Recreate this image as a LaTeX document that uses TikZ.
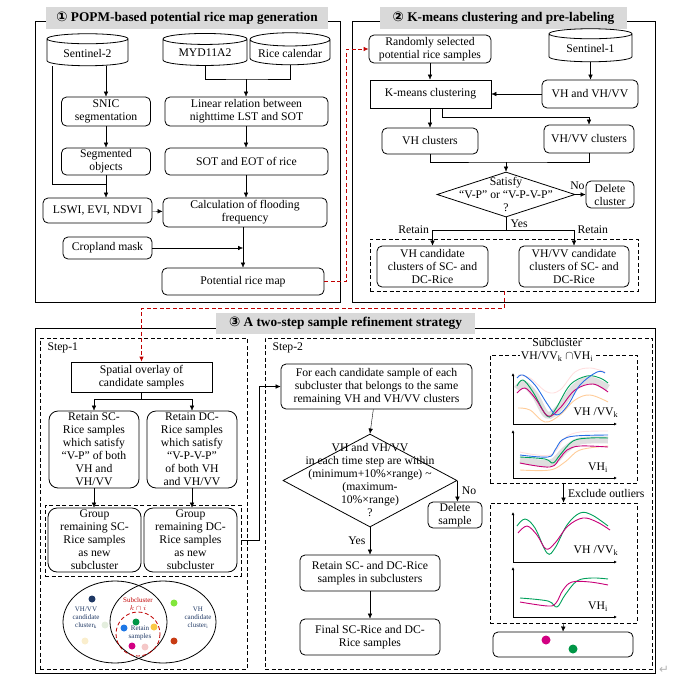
\documentclass[tikz,border=0pt]{standalone}
\usepackage{fontspec}
\setmainfont{Liberation Serif}
\newfontfamily\symfont{DejaVu Sans}
\usetikzlibrary{positioning,calc,arrows.meta,shapes.geometric}
\definecolor{darkred}{RGB}{192,0,0}
\definecolor{navy}{RGB}{31,56,100}
\definecolor{titlegray}{RGB}{217,217,217}
\definecolor{cgreen}{RGB}{0,160,90}
\definecolor{cmag}{RGB}{200,0,120}
\definecolor{cblue}{RGB}{40,110,230}
\definecolor{dpale}{RGB}{228,238,222}
\definecolor{dcream}{RGB}{250,238,205}
\definecolor{dgreen}{RGB}{0,150,70}
\definecolor{dblue}{RGB}{30,120,230}
\definecolor{dyellow}{RGB}{250,200,70}
\definecolor{dmag}{RGB}{210,0,130}
\definecolor{dpink}{RGB}{245,200,200}
\definecolor{dlime}{RGB}{130,230,60}
\definecolor{dorange}{RGB}{200,60,20}
\tikzset{box/.style={draw,rounded corners=5pt,align=center,line width=0.8pt,inner sep=1pt}}
\tikzset{sbox/.style={draw,align=center,line width=0.8pt,inner sep=1pt}}
\tikzset{db/.style={draw,cylinder,shape border rotate=90,aspect=0.2,align=center,line width=0.8pt,inner sep=1pt}}
\tikzset{dec/.style={draw,diamond,line width=0.8pt,inner sep=0pt}}
\tikzset{dbox/.style={draw,dashed,line width=0.8pt,dash pattern=on 4pt off 2.5pt}}
\tikzset{reddash/.style={draw=darkred,line width=0.8pt,dash pattern=on 4pt off 2.5pt}}
\tikzset{frame/.style={draw,line width=0.8pt}}
\tikzset{ttl/.style={fill=titlegray,font=\fontsize{13.3}{15}\selectfont\bfseries,inner sep=2pt}}
\tikzset{axis/.style={line width=0.8pt,-{Latex[length=3pt,width=3pt]}}}
\tikzset{curve/.style={line width=0.9pt,smooth,tension=0.6}}
\tikzset{dot/.style={circle,inner sep=0pt,minimum size=7pt}}
\tikzset{small/.style={font=\fontsize{7}{8}\selectfont,align=center}}
\tikzset{>={Latex[length=5pt,width=4.5pt]}}

\begin{document}
\begin{tikzpicture}[x=1pt,y=-1pt,font=\fontsize{11.7}{13}\selectfont]
\useasboundingbox (0,0) rectangle (680,686);

% panel frames
\draw[frame] (35,21) rectangle (340,302);
\draw[frame] (352,21) rectangle (655,302);
\draw[frame] (35,328) rectangle (655,673);
\node[ttl,minimum width=282pt,minimum height=22pt] (t1) at (187,18) {{\symfont ①} POPM-based potential rice map generation};
\node[ttl,minimum width=247pt,minimum height=22pt] (t2) at (503.5,18) {{\symfont ②} K-means clustering and pre-labeling};
\node[ttl,minimum width=259pt,minimum height=21pt] (t3) at (345.5,323.5) {{\symfont ③} A two-step sample refinement strategy};

% panel 1
\node[db,minimum width=81pt,minimum height=32pt] (s2) at (87.5,53) {Sentinel-2};
\node[db,minimum width=84pt,minimum height=32pt] (myd) at (205,53) {MYD11A2};
\node[db,minimum width=80pt,minimum height=32pt] (cal) at (290,53) {Rice calendar};
\node[box,minimum width=89pt,minimum height=29pt] (snic) at (106,111.5) {SNIC\\segmentation};
\node[box,minimum width=163pt,minimum height=29pt] (lin) at (246.5,111.5) {Linear relation between\\nighttime LST and SOT};
\node[box,minimum width=89pt,minimum height=27pt] (seg) at (106,161.5) {Segmented\\objects};
\node[box,minimum width=163pt,minimum height=27pt] (sot) at (246.5,161.5) {SOT and EOT of rice};
\node[box,minimum width=109pt,minimum height=25pt] (lswi) at (97.5,210.5) {LSWI, EVI, NDVI};
\node[box,minimum width=164pt,minimum height=29pt] (calc) at (245,212.5) {Calculation of flooding\\frequency};
\node[box,minimum width=89pt,minimum height=22pt] (crop) at (107.5,248) {Cropland mask};
\node[box,minimum width=162pt,minimum height=27pt] (prm) at (243,281.5) {Potential rice map};
\coordinate (j1) at (106,184);
\coordinate (j2) at (246,79);

\draw[->] (s2.south -| snic.north) -- (snic.north);
\draw[->] (snic) -- (seg);
\draw ([xshift=-35pt]s2.south) |- (j1);
\draw[->] (seg.south) -- (seg.south |- lswi.north);
\draw (myd.south) |- (j2) -| (cal.south);
\draw[->] (j2) -- (lin.north -| j2);
\draw[->] (lin.south -| j2) -- (sot.north -| j2);
\draw[->] (sot.south -| j2) -- (calc.north -| j2);
\draw[->] (lswi) -- (calc);
\draw[->] (calc.south -| prm.north) -- (prm.north);
\draw[->] (crop.east) -- (crop.east -| prm.north);

% panel 2
\node[box,minimum width=122pt,minimum height=28pt] (rand) at (430,49) {Randomly selected\\potential rice samples};
\node[db,minimum width=83pt,minimum height=33pt] (s1) at (590.5,48.5) {Sentinel-1};
\node[sbox,minimum width=121pt,minimum height=28pt] (km) at (430.5,94) {K-means clustering};
\node[box,minimum width=96pt,minimum height=28pt] (vhvv) at (590,94) {VH and VH/VV};
\node[box,minimum width=96pt,minimum height=26pt] (vhc) at (430,141) {VH clusters};
\node[box,minimum width=90pt,minimum height=28pt] (vvc) at (589,139) {VH/VV clusters};
\node[dec,minimum width=138pt,minimum height=45pt,label={[align=center]center:{Satisfy\\“V-P” or “V-P-V-P”\\?}}] (d1) at (506,194.5) {};
\node[box,minimum width=48pt,minimum height=27pt] (delc) at (610,194.5) {Delete\\cluster};
\node[dbox,minimum width=268pt,minimum height=52pt] (cand) at (504,265) {};
\node[box,minimum width=111pt,minimum height=41pt] (vhcand) at (432.5,266.5) {VH candidate\\clusters of SC- and\\DC-Rice};
\node[box,minimum width=110pt,minimum height=41pt] (vvcand) at (574,266.5) {VH/VV candidate\\clusters of SC- and\\DC-Rice};
\coordinate (j3) at (589,117);
\coordinate (j4) at (506,162);
\coordinate (j5) at (506,230);

\draw[->] (rand) -- (rand |- km.north);
\draw[->] (s1) -- (s1 |- vhvv.north);
\draw[->] (vhvv) -- (km);
\draw[->] (km.south -| vhc) -- (vhc.north);
\draw[->] ([xshift=12pt]km.south) |- (j3) -- (vvc.north);
\draw (vhc.south) |- (j4) -| (vvc.south);
\draw[->] (j4) -- (d1.north);
\draw[->] (d1.east) -- node[above=1pt,pos=0.2] (no1) {No} (delc.west);
\draw (d1.south) -- node[right=1pt] (yes1) {Yes} (j5);
\draw[->] (j5) -| (vhcand.north);
\draw[->] (j5) -| (vvcand.north);
\node[left=0pt] (ret1) at (vhcand.north |- j5) {Retain};
\node[right=0pt] (ret2) at (vvcand.north |- j5) {Retain};

% red links
\draw[reddash,-{Latex[length=5pt,width=4.5pt]},darkred] (prm.east) -- ++(22,0) |- (rand.west);

% panel 3
\node[dbox,minimum width=207pt,minimum height=331pt] (st1) at (143.5,503.5) {};
\node[dbox,minimum width=387pt,minimum height=331pt] (st2) at (458.5,503.5) {};
\node[anchor=west] (st1l) at (44,348) {Step-1};
\node[anchor=west] (st2l) at (269,348) {Step-2};

% step 1
\node[sbox,minimum width=141pt,minimum height=30pt] (spov) at (141.5,377) {Spatial overlay of\\candidate samples};
\node[box,rounded corners=9pt,minimum width=90pt,minimum height=77pt] (rsc) at (94,449.5) {Retain SC-\\Rice samples\\which satisfy\\“V-P” of both\\VH and\\VH/VV};
\node[box,rounded corners=9pt,minimum width=90pt,minimum height=77pt] (rdc) at (192,449.5) {Retain DC-\\Rice samples\\which satisfy\\“V-P-V-P”\\of both VH\\and VH/VV};
\node[dbox,minimum width=196pt,minimum height=71pt] (grp) at (143,540.5) {};
\node[box,rounded corners=9pt,minimum width=93pt,minimum height=64pt] (gsc) at (94.5,540) {Group\\remaining SC-\\Rice samples\\as new\\subcluster};
\node[box,rounded corners=9pt,minimum width=93pt,minimum height=64pt] (gdc) at (190.5,540) {Group\\remaining DC-\\Rice samples\\as new\\subcluster};
\coordinate (j6) at (141.5,399);

\draw[reddash,-{Latex[length=5pt,width=4.5pt]},darkred] (cand.south) -- ++(0,17) -| (spov.north);
\draw (spov.south) -- (j6);
\draw[->] (j6) -| (rsc.north);
\draw[->] (j6) -| (rdc.north);
\draw[->] (rsc) -- (rsc |- gsc.north);
\draw[->] (rdc) -- (rdc |- gdc.north);

% venn
\draw[line width=0.8pt] (115,622) ellipse (52 and 41);
\draw[line width=0.8pt] (163,622) ellipse (53 and 41);
\draw[reddash] (138,634) circle (22);
\node[small,text=navy] (vk) at (86,618) {VH/VV\\candidate\\cluster\textsubscript{k}};
\node[small,text=navy] (vi) at (198,618) {VH\\candidate\\cluster\textsubscript{i}};
\node[small,text=darkred] (subk) at (138,604) {Subcluster\\$k\cap i$};
\node[small,text=navy] (rets) at (140,633) {Retain\\samples};
\node[dot,fill=navy] (c1) at (92,599) {};
\node[dot,fill=dpale] (c2) at (105,625) {};
\node[dot,fill=dcream] (c3) at (85,641) {};
\node[dot,fill=dgreen] (c4) at (136,622) {};
\node[dot,fill=dblue] (c5) at (124,628) {};
\node[dot,fill=dyellow] (c6) at (154,627) {};
\node[dot,fill=dmag] (c7) at (132,646) {};
\node[dot,fill=dpink] (c8) at (145,647) {};
\node[dot,fill=dlime] (c9) at (174,603) {};
\node[dot,fill=dorange] (c10) at (174,641) {};

% step 2
\node[box,minimum width=191pt,minimum height=45pt] (fe) at (376.5,386.5) {For each candidate sample of each\\subcluster that belongs to the same\\remaining VH and VH/VV clusters};
\node[dec,minimum width=174pt,minimum height=93pt,label={[align=center]center:{VH and VH/VV\\in each time step are within\\(minimum+10\%×range) \textasciitilde\\(maximum-\\10\%×range)\\?}}] (d2) at (370,480.5) {};
\node[box,minimum width=54pt,minimum height=26pt] (dels) at (455,515) {Delete\\sample};
\node[box,minimum width=140pt,minimum height=36pt] (rt) at (370,573) {Retain SC- and DC-Rice\\samples in subclusters};
\node[box,minimum width=140pt,minimum height=36pt] (fin) at (370,637) {Final SC-Rice and DC-\\Rice samples};

\draw[->] (grp.east) -- ++(18,0) |- (fe.west);
\draw[->] (fe) -- (d2.north);
\draw[->] (d2.east) -- node[right=1pt] (no2) {No} (d2.east |- dels.north);
\draw[->] (d2.south) -- node[left=1pt] (yes2) {Yes} (rt.north);
\draw[->] (rt) -- (fin);

% subcluster charts
\node[dbox,minimum width=147pt,minimum height=128pt] (sub1) at (563.5,419) {};
\node[dbox,minimum width=147pt,minimum height=120pt] (sub2) at (563.5,563) {};
\node[box,minimum width=140pt,minimum height=25pt] (outb) at (563,644.5) {};
\node[inner sep=0pt] (subt) at (557,342) {Subcluster};
\node[fill=white,inner sep=0.5pt] (subn) at (557,357) {VH/VV\textsubscript{k} $\cap$VH\textsubscript{i}};
\draw[->] (sub1.south) -- node[right=1pt] (exo) {Exclude outliers} (sub2.north);
\draw[->] (sub2.south) -- (outb.north);

% chart 1
\draw[axis] (513,424) -- (513,373);
\draw[axis] (513,424) -- (617,424);
\draw[line width=7pt,gray!25,smooth,tension=0.6] plot coordinates {(517,389) (524,384) (535,395) (547,415) (560,407) (575,387) (590,380) (608,388)};
\draw[curve,pink!50] plot coordinates {(518,375) (530,378) (547,392) (560,390) (575,372) (590,368) (605,372)};
\draw[curve,orange!40] plot coordinates {(518,408) (530,410) (545,422) (560,415) (575,400) (590,395) (608,402)};
\draw[curve,cgreen] plot coordinates {(517,386) (523,380) (533,392) (547,416) (555,410) (570,385) (587,376) (600,378) (608,383)};
\draw[curve,cmag] plot coordinates {(517,393) (525,388) (535,398) (548,416) (560,408) (575,390) (593,384) (608,392)};
\draw[curve,cblue] plot coordinates {(517,378) (523,375) (535,385) (548,405) (557,415) (568,405) (580,385) (597,372) (605,373)};
\node (lab1) at (596,413) {VH /VV\textsubscript{k}};

% chart 2
\draw[axis] (513,478) -- (513,430);
\draw[axis] (513,478) -- (617,478);
\draw[line width=7pt,gray!25,smooth,tension=0.6] plot coordinates {(520,460) (550,463) (565,450) (580,441) (608,440)};
\draw[curve,pink!50] plot coordinates {(520,452) (550,455) (565,438) (580,432) (608,431)};
\draw[curve,orange!40] plot coordinates {(520,470) (550,470) (565,462) (580,450) (608,446)};
\draw[curve,cgreen] plot coordinates {(520,457) (545,459) (553,463) (560,455) (573,441) (590,438) (608,438)};
\draw[curve,cmag] plot coordinates {(520,463) (550,467) (560,458) (567,450) (580,446) (608,447)};
\draw[curve,cblue] plot coordinates {(520,455) (548,457) (555,450) (562,440) (575,436) (608,435)};
\node (lab2) at (598,468) {VH\textsubscript{i}};

% chart 3
\draw[axis] (513,562) -- (513,512);
\draw[axis] (513,562) -- (617,562);
\draw[curve,cgreen] plot coordinates {(517,526) (525,519) (535,528) (547,553) (555,548) (567,525) (580,513) (592,515) (608,526)};
\draw[curve,cmag] plot coordinates {(518,533) (527,526) (537,535) (546,549) (555,543) (568,526) (583,518) (597,522) (610,530)};
\node (lab3) at (596,551) {VH /VV\textsubscript{k}};

% chart 4
\draw[axis] (513,617) -- (513,567);
\draw[axis] (513,617) -- (617,617);
\draw[curve,cgreen] plot coordinates {(520,598) (548,601) (557,607) (565,595) (577,581) (592,578) (608,579)};
\draw[curve,cmag] plot coordinates {(520,602) (548,606) (556,603) (563,590) (572,582) (590,582) (608,585)};
\node (lab4) at (598,607) {VH\textsubscript{i}};

\node[dot,minimum size=9pt,fill=dmag] (o1) at (546,640) {};
\node[dot,minimum size=9pt,fill=dgreen] (o2) at (573,649) {};
\node[text=gray!60] (ret) at (664,670) {\symfont ↵};
\end{tikzpicture}
\end{document}
